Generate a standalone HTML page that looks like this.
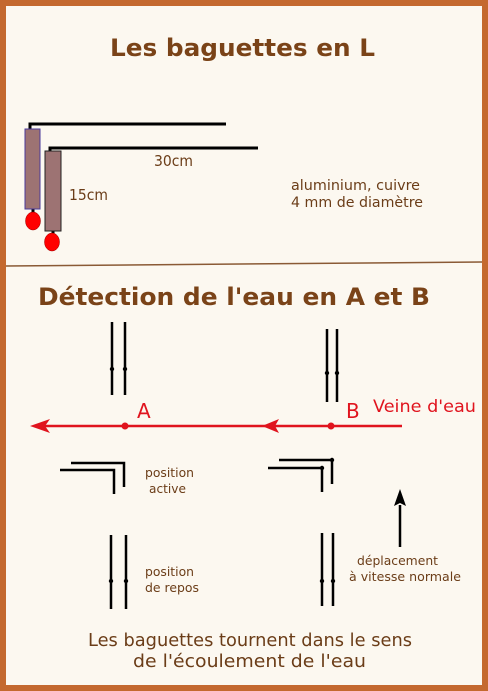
<!DOCTYPE html>
<html><head><meta charset="utf-8"><style>
body{margin:0;width:488px;height:691px;overflow:hidden;background:#c4692f}
svg{display:block}
text{font-family:"DejaVu Sans","Liberation Sans",sans-serif}
</style></head><body>
<svg width="488" height="691" viewBox="0 0 488 691">
<rect x="6" y="6" width="476" height="679" fill="#fcf8f0"/>
<text x="110" y="56" font-size="24" font-weight="bold" fill="#7a4318" textLength="265" lengthAdjust="spacingAndGlyphs">Les baguettes en L</text>
<g stroke="#000" stroke-width="3" fill="none">
<polyline points="30,130 30,124 226,124"/><line x1="33" y1="209" x2="33" y2="214"/></g>
<rect x="25" y="129" width="15" height="80" fill="#9d7373" stroke="#4a3a9a" stroke-width="1"/>
<ellipse cx="33" cy="221" rx="7.5" ry="9" fill="#ff0000" stroke="#900" stroke-width="0.5"/>
<g stroke="#000" stroke-width="3" fill="none">
<polyline points="50,152 50,148 258,148"/><line x1="53" y1="231" x2="53" y2="235"/></g>
<rect x="45" y="151" width="16" height="80" fill="#9d7373" stroke="#222" stroke-width="1"/>
<ellipse cx="52" cy="242" rx="7.5" ry="9" fill="#ff0000" stroke="#900" stroke-width="0.5"/>
<text x="154" y="166" font-size="15" fill="#6b3d18" textLength="39" lengthAdjust="spacingAndGlyphs">30cm</text>
<text x="69" y="200" font-size="15" fill="#6b3d18" textLength="39" lengthAdjust="spacingAndGlyphs">15cm</text>
<text x="291" y="190" font-size="14" fill="#6b3d18" textLength="129" lengthAdjust="spacingAndGlyphs">aluminium, cuivre</text>
<text x="291" y="207" font-size="14" fill="#6b3d18" textLength="132" lengthAdjust="spacingAndGlyphs">4 mm de diamètre</text>
<line x1="6" y1="266" x2="482" y2="262" stroke="#8a5a35" stroke-width="1.5"/>
<text x="38" y="305" font-size="24" font-weight="bold" fill="#7a4318" textLength="392" lengthAdjust="spacingAndGlyphs">Détection de l'eau en A et B</text>
<g stroke="#000" stroke-width="2.5" fill="none">
<line x1="112" y1="322" x2="112" y2="395"/><line x1="125" y1="322" x2="125" y2="395"/>
<line x1="327" y1="329" x2="327" y2="402"/><line x1="337" y1="329" x2="337" y2="402"/>
<line x1="111" y1="535" x2="111" y2="609"/><line x1="126" y1="535" x2="126" y2="609"/>
<line x1="322" y1="533" x2="322" y2="606"/><line x1="333" y1="533" x2="333" y2="606"/>
<polyline points="71,463 124,463 124,487"/><polyline points="60,470 114,470 114,494"/>
<polyline points="279,460 332,460 332,484"/><polyline points="268,468 322,468 322,492"/>
<line x1="400" y1="547" x2="400" y2="505"/>
</g>
<g fill="#000">
<circle cx="112" cy="369" r="2.2"/><circle cx="125" cy="369" r="2.2"/>
<circle cx="327" cy="373" r="2.2"/><circle cx="337" cy="373" r="2.2"/>
<circle cx="111" cy="581" r="2.2"/><circle cx="126" cy="581" r="2.2"/>
<circle cx="322" cy="581" r="2.2"/><circle cx="333" cy="581" r="2.2"/>
<circle cx="332" cy="460" r="2.2"/><circle cx="322" cy="468" r="2.2"/>
<path d="M400,489 L394,506 L400,503 L406,506 Z"/>
</g>
<g>
<line x1="34" y1="426" x2="402" y2="426" stroke="#e0141e" stroke-width="2.5"/>
<path d="M30,426 L50,419 L45,426 L50,433 Z" fill="#e0141e"/>
<path d="M262,426 L279,419 L275,426 L279,433 Z" fill="#e0141e"/>
<circle cx="125" cy="426" r="3.5" fill="#e0141e"/>
<circle cx="331" cy="426" r="3.5" fill="#e0141e"/>
</g>
<text x="137" y="418" font-size="20" fill="#e0141e">A</text>
<text x="346" y="418" font-size="20" fill="#e0141e">B</text>
<text x="373" y="412" font-size="17" fill="#e0141e" textLength="103" lengthAdjust="spacingAndGlyphs">Veine d'eau</text>
<text x="145" y="477" font-size="12.5" fill="#6b3d18" textLength="49" lengthAdjust="spacingAndGlyphs">position</text>
<text x="149" y="493" font-size="12.5" fill="#6b3d18" textLength="37" lengthAdjust="spacingAndGlyphs">active</text>
<text x="145" y="576" font-size="12.5" fill="#6b3d18" textLength="49" lengthAdjust="spacingAndGlyphs">position</text>
<text x="145" y="592" font-size="12.5" fill="#6b3d18" textLength="54" lengthAdjust="spacingAndGlyphs">de repos</text>
<text x="357" y="565" font-size="12.5" fill="#6b3d18" textLength="81" lengthAdjust="spacingAndGlyphs">déplacement</text>
<text x="349" y="581" font-size="12.5" fill="#6b3d18" textLength="112" lengthAdjust="spacingAndGlyphs">à vitesse normale</text>
<text x="88" y="646" font-size="17.5" fill="#6b3d18" textLength="324" lengthAdjust="spacingAndGlyphs">Les baguettes tournent dans le sens</text>
<text x="133" y="667" font-size="17.5" fill="#6b3d18" textLength="233" lengthAdjust="spacingAndGlyphs">de l'écoulement de l'eau</text>
</svg>
</body></html>
